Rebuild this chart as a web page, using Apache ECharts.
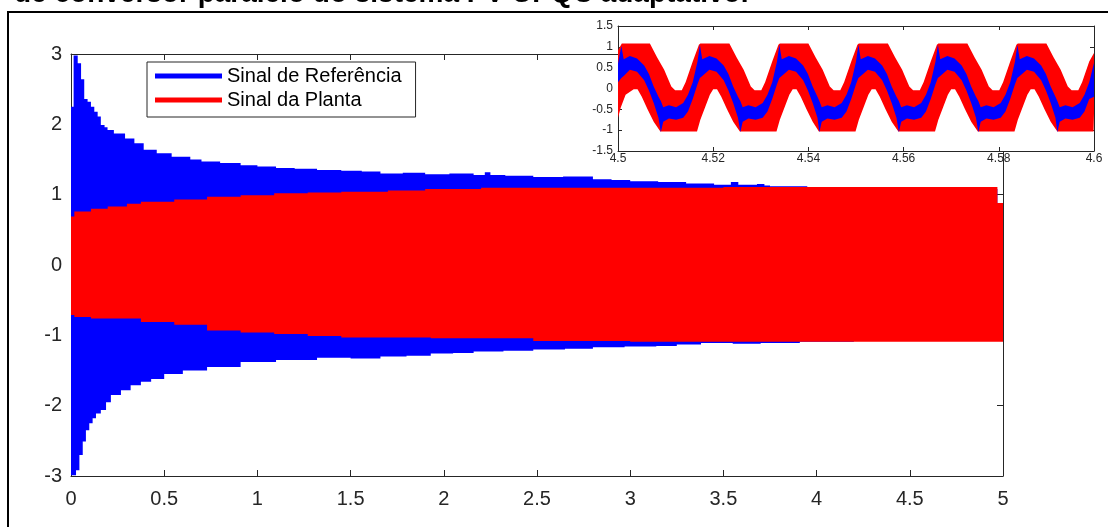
<!DOCTYPE html>
<html><head><meta charset="utf-8">
<script src="https://cdn.jsdelivr.net/npm/echarts@6/dist/echarts.min.js"></script>
<style>html,body{margin:0;padding:0;background:#fff;}#c{width:1108px;height:527px;}</style>
</head><body><div id="c"></div>
<script>
// ---------- texts ----------
const titleText = 'de conversor paralelo do sistema PV-UPQC adaptativo.';
const seriesNames = ['Sinal de Referência', 'Sinal da Planta'];

// ---------- tick labels ----------
const mainXTicks = [0, 0.5, 1, 1.5, 2, 2.5, 3, 3.5, 4, 4.5, 5];
const mainYTicks = [-3, -2, -1, 0, 1, 2, 3];
const insetXTicks = [4.5, 4.52, 4.54, 4.56, 4.58, 4.6];
const insetYTicks = [-1.5, -1, -0.5, 0, 0.5, 1, 1.5];

// ---------- main plot: envelope of the dense oscillation (step edges) ----------
const blueHiT = [0, 0.014, 0.036, 0.054, 0.071, 0.089, 0.107, 0.125, 0.143, 0.160, 0.180, 0.196, 0.230, 0.290, 0.340, 0.390, 0.460, 0.540, 0.640, 0.700, 0.800, 0.910, 1.000, 1.100, 1.200, 1.320, 1.450, 1.560, 1.660, 1.780, 1.900, 2.030, 2.160, 2.220, 2.250, 2.330, 2.480, 2.640, 2.800, 2.900, 3.000, 3.150, 3.300, 3.450, 3.540, 3.580, 3.680, 3.720, 3.750, 3.950, 4.200, 4.970, 5.000];
const blueHiV = [2.25, 2.98, 2.87, 2.64, 2.36, 2.32, 2.25, 2.18, 2.11, 1.99, 1.96, 1.92, 1.87, 1.80, 1.73, 1.64, 1.59, 1.54, 1.50, 1.47, 1.45, 1.42, 1.40, 1.38, 1.37, 1.35, 1.34, 1.33, 1.30, 1.31, 1.29, 1.30, 1.28, 1.32, 1.28, 1.27, 1.25, 1.26, 1.22, 1.21, 1.19, 1.18, 1.16, 1.14, 1.18, 1.14, 1.15, 1.13, 1.12, 1.09, 1.08, 0.85, 0.85];
const blueLoT = [0, 0.027, 0.045, 0.063, 0.080, 0.098, 0.116, 0.134, 0.160, 0.188, 0.214, 0.268, 0.320, 0.375, 0.430, 0.500, 0.600, 0.730, 0.910, 1.100, 1.320, 1.500, 1.660, 1.800, 1.930, 2.050, 2.160, 2.320, 2.480, 2.650, 2.800, 2.970, 3.140, 3.250, 3.380, 3.550, 3.700, 3.910, 4.200, 4.970, 5.000];
const blueLoV = [-2.99, -2.92, -2.70, -2.51, -2.35, -2.25, -2.18, -2.11, -2.06, -1.95, -1.85, -1.78, -1.71, -1.66, -1.62, -1.55, -1.50, -1.45, -1.38, -1.35, -1.32, -1.33, -1.30, -1.29, -1.26, -1.25, -1.23, -1.22, -1.20, -1.19, -1.17, -1.16, -1.15, -1.13, -1.11, -1.12, -1.11, -1.09, -1.07, -1.00, -1.00];
const redHiT = [0, 0.018, 0.107, 0.197, 0.300, 0.375, 0.554, 0.730, 0.910, 1.090, 1.270, 1.450, 1.700, 1.900, 2.200, 3.000, 3.500, 4.970, 5.000];
const redHiV = [0.69, 0.76, 0.80, 0.83, 0.87, 0.90, 0.93, 0.97, 0.99, 1.02, 1.03, 1.04, 1.06, 1.08, 1.10, 1.10, 1.11, 0.88, 0.88];
const redLoT = [0, 0.018, 0.107, 0.375, 0.554, 0.730, 0.910, 1.090, 1.270, 1.450, 1.930, 2.480, 3.000, 4.970, 5.000];
const redLoV = [-0.71, -0.74, -0.76, -0.81, -0.85, -0.93, -0.96, -0.98, -1.01, -1.03, -1.04, -1.08, -1.09, -1.09, -1.09];

// ---------- inset (4.5 s .. 4.6 s) ----------
const insetRedHiT = [4.5000, 4.5008, 4.5067, 4.5082, 4.5097, 4.5112, 4.5120, 4.5134, 4.5142, 4.5157, 4.5170, 4.5173,
  4.5234, 4.5249, 4.5264, 4.5279, 4.5287, 4.5301, 4.5309, 4.5324, 4.5337, 4.5340,
  4.5400, 4.5415, 4.5430, 4.5445, 4.5453, 4.5467, 4.5475, 4.5490, 4.5503, 4.5506,
  4.5567, 4.5582, 4.5597, 4.5612, 4.5620, 4.5634, 4.5642, 4.5657, 4.5670, 4.5673,
  4.5734, 4.5749, 4.5764, 4.5779, 4.5787, 4.5801, 4.5809, 4.5824, 4.5837, 4.5840,
  4.5900, 4.5915, 4.5930, 4.5945, 4.5953, 4.5967, 4.5975, 4.5990, 4.6000];
const insetRedHiV = [0.92, 1.08, 1.08, 0.75, 0.45, 0.05, -0.04, -0.04, 0.15, 0.65, 1.05, 1.08,
  1.08, 0.75, 0.45, 0.05, -0.04, -0.04, 0.15, 0.65, 1.05, 1.08,
  1.08, 0.75, 0.45, 0.05, -0.04, -0.04, 0.15, 0.65, 1.05, 1.08,
  1.08, 0.75, 0.45, 0.05, -0.04, -0.04, 0.15, 0.65, 1.05, 1.08,
  1.08, 0.75, 0.45, 0.05, -0.04, -0.04, 0.15, 0.65, 1.05, 1.08,
  1.08, 0.75, 0.45, 0.05, -0.04, -0.04, 0.15, 0.65, 0.85];
const insetRedLoT = [4.5000, 4.5006, 4.5016, 4.5033, 4.5041, 4.5050, 4.5062, 4.5075, 4.5089,
  4.5166, 4.5173, 4.5183, 4.5193, 4.5200, 4.5208, 4.5217, 4.5229, 4.5242, 4.5256,
  4.5333, 4.5340, 4.5350, 4.5360, 4.5367, 4.5375, 4.5384, 4.5396, 4.5409, 4.5422,
  4.5499, 4.5506, 4.5516, 4.5526, 4.5533, 4.5541, 4.5550, 4.5562, 4.5575, 4.5589,
  4.5666, 4.5673, 4.5683, 4.5693, 4.5700, 4.5708, 4.5717, 4.5729, 4.5742, 4.5756,
  4.5833, 4.5840, 4.5850, 4.5860, 4.5867, 4.5875, 4.5884, 4.5896, 4.5909, 4.5923,
  4.5999, 4.6000];
const insetRedLoV = [-0.70, -0.45, -0.15, -0.02, -0.02, -0.20, -0.50, -0.80, -1.03,
  -1.03, -0.75, -0.45, -0.15, -0.02, -0.02, -0.20, -0.50, -0.80, -1.03,
  -1.03, -0.75, -0.45, -0.15, -0.02, -0.02, -0.20, -0.50, -0.80, -1.03,
  -1.03, -0.75, -0.45, -0.15, -0.02, -0.02, -0.20, -0.50, -0.80, -1.03,
  -1.03, -0.75, -0.45, -0.15, -0.02, -0.02, -0.20, -0.50, -0.80, -1.03,
  -1.03, -0.75, -0.45, -0.15, -0.02, -0.02, -0.20, -0.50, -0.80, -1.03,
  -1.03, -0.60];
const insetBlueT = [4.5000, 4.5007, 4.5012, 4.5025, 4.5040, 4.5055, 4.5065, 4.5075, 4.5085,
  4.5090, 4.5095, 4.5107, 4.5122, 4.5137, 4.5147, 4.5157, 4.5167, 4.5172, 4.5177, 4.5192, 4.5207, 4.5222, 4.5232, 4.5242, 4.5252,
  4.5257, 4.5262, 4.5274, 4.5289, 4.5304, 4.5314, 4.5324, 4.5334, 4.5339, 4.5344, 4.5359, 4.5374, 4.5389, 4.5399, 4.5409, 4.5419,
  4.5423, 4.5428, 4.5440, 4.5455, 4.5470, 4.5480, 4.5490, 4.5500, 4.5505, 4.5510, 4.5525, 4.5540, 4.5555, 4.5565, 4.5575, 4.5585,
  4.5590, 4.5595, 4.5607, 4.5622, 4.5637, 4.5647, 4.5657, 4.5667, 4.5672, 4.5677, 4.5692, 4.5707, 4.5722, 4.5732, 4.5742, 4.5752,
  4.5757, 4.5762, 4.5774, 4.5789, 4.5804, 4.5814, 4.5824, 4.5834, 4.5839, 4.5844, 4.5859, 4.5874, 4.5889, 4.5899, 4.5909, 4.5919,
  4.5923, 4.5928, 4.5940, 4.5955, 4.5970, 4.5980, 4.5990, 4.6000];
const insetBlueHi = [0.60, 1.02, 0.70, 0.78, 0.72, 0.55, 0.35, 0.05, -0.20,
  -0.30, -0.45, -0.40, -0.45, -0.35, -0.15, 0.15, 0.65, 1.05, 0.70, 0.78, 0.72, 0.55, 0.35, 0.05, -0.20,
  -0.30, -0.45, -0.40, -0.45, -0.35, -0.15, 0.15, 0.65, 1.05, 0.70, 0.78, 0.72, 0.55, 0.35, 0.05, -0.20,
  -0.30, -0.45, -0.40, -0.45, -0.35, -0.15, 0.15, 0.65, 1.05, 0.70, 0.78, 0.72, 0.55, 0.35, 0.05, -0.20,
  -0.30, -0.45, -0.40, -0.45, -0.35, -0.15, 0.15, 0.65, 1.05, 0.70, 0.78, 0.72, 0.55, 0.35, 0.05, -0.20,
  -0.30, -0.45, -0.40, -0.45, -0.35, -0.15, 0.15, 0.65, 1.05, 0.70, 0.78, 0.72, 0.55, 0.35, 0.05, -0.20,
  -0.30, -0.45, -0.40, -0.45, -0.35, -0.15, 0.15, 0.62];
const insetBlueLo = [0.15, 0.25, 0.30, 0.45, 0.40, 0.20, -0.05, -0.35, -0.70,
  -1.05, -0.80, -0.72, -0.75, -0.70, -0.55, -0.25, 0.10, 0.25, 0.30, 0.45, 0.40, 0.20, -0.05, -0.35, -0.70,
  -1.05, -0.80, -0.72, -0.75, -0.70, -0.55, -0.25, 0.10, 0.25, 0.30, 0.45, 0.40, 0.20, -0.05, -0.35, -0.70,
  -1.05, -0.80, -0.72, -0.75, -0.70, -0.55, -0.25, 0.10, 0.25, 0.30, 0.45, 0.40, 0.20, -0.05, -0.35, -0.70,
  -1.05, -0.80, -0.72, -0.75, -0.70, -0.55, -0.25, 0.10, 0.25, 0.30, 0.45, 0.40, 0.20, -0.05, -0.35, -0.70,
  -1.05, -0.80, -0.72, -0.75, -0.70, -0.55, -0.25, 0.10, 0.25, 0.30, 0.45, 0.40, 0.20, -0.05, -0.35, -0.70,
  -1.05, -0.80, -0.72, -0.75, -0.70, -0.55, -0.25, -0.20];

// ---------- helpers ----------
const FONT = '"Liberation Sans", Arial, Helvetica, sans-serif';
const AX = '#262626';
const BLUE = '#0000ff', RED = '#ff0000';

function step(ticks) { return +(ticks[1] - ticks[0]).toFixed(6); }
function labelFrom(ticks) {
  return function (v) {
    const k = ticks.find(x => Math.abs(x - v) < 1e-7);
    return k === undefined ? '' : String(k);
  };
}
function band(hiT, hiV, loT, loV, stepped, color) {
  return function (params, api) {
    if (params.dataIndex !== 0) return null;
    const pts = [];
    const p = (t, v) => pts.push(api.coord([t, v]));
    if (stepped) {
      for (let i = 0; i < hiT.length - 1; i++) { p(hiT[i], hiV[i]); p(hiT[i + 1], hiV[i]); }
      for (let i = loT.length - 2; i >= 0; i--) { p(loT[i + 1], loV[i]); p(loT[i], loV[i]); }
    } else {
      for (let i = 0; i < hiT.length; i++) p(hiT[i], hiV[i]);
      for (let i = loT.length - 1; i >= 0; i--) p(loT[i], loV[i]);
    }
    return { type: 'polygon', shape: { points: pts }, style: { fill: color, stroke: null } };
  };
}
function xAx(grid, ticks, pos, labels, fs, margin, tickLen, z) {
  return {
    type: 'value', gridIndex: grid, position: pos, min: ticks[0], max: ticks[ticks.length - 1], interval: step(ticks),
    z: z,
    axisLine: { show: true, onZero: false, lineStyle: { color: AX, width: 1 } },
    axisTick: { show: true, inside: true, length: tickLen, lineStyle: { color: AX, width: 1 } },
    axisLabel: { show: labels, fontSize: fs, color: AX, fontFamily: FONT, margin: margin, formatter: labelFrom(ticks), hideOverlap: false, showMinLabel: true, showMaxLabel: true },
    splitLine: { show: false }
  };
}

const chart = echarts.init(document.getElementById('c'), null, { renderer: 'canvas' });
chart.setOption({
  animation: false,
  backgroundColor: '#fff',
  textStyle: { fontFamily: FONT },
  grid: [
    { left: 71, top: 54, width: 932, height: 422, show: false },
    { left: 618, top: 26, width: 476, height: 125, show: true, backgroundColor: '#fff', borderWidth: 0, z: 3 }
  ],
  xAxis: [
    xAx(0, mainXTicks, 'bottom', true, 20, 13, 6, 0),
    xAx(0, mainXTicks, 'top', false, 20, 13, 6, 0),
    xAx(1, insetXTicks, 'bottom', true, 12, 2, 4, 4),
    xAx(1, insetXTicks, 'top', false, 12, 2, 4, 4)
  ],
  yAxis: [
    xAx(0, mainYTicks, 'left', true, 20, 9, 6, 0),
    xAx(0, mainYTicks, 'right', false, 20, 9, 6, 0),
    xAx(1, insetYTicks, 'left', true, 12, 5, 4, 4),
    xAx(1, insetYTicks, 'right', false, 12, 5, 4, 4)
  ],
  legend: {
    data: seriesNames, left: 147, top: 62, orient: 'vertical', icon: 'rect',
    itemWidth: 67, itemHeight: 5, itemGap: 4, padding: [4, 14, 7, 8],
    borderColor: AX, borderWidth: 1, backgroundColor: '#fff', z: 8,
    textStyle: { fontSize: 20, color: '#000', fontFamily: FONT },
    selectedMode: false
  },
  graphic: [
    { type: 'rect', shape: { x: 8, y: 12, width: 1300, height: 700 }, style: { fill: null, stroke: '#000', lineWidth: 2 }, z: 20, silent: true },
    { type: 'text', x: 14, y: -6, style: { text: titleText, font: 'bold 28px ' + FONT, fill: '#000', align: 'left', verticalAlign: 'middle' }, z: 20, silent: true }
  ],
  series: [
    { type: 'custom', name: seriesNames[0], xAxisIndex: 0, yAxisIndex: 0, clip: true, z: 2, itemStyle: { color: BLUE },
      data: [[blueHiT[0], blueHiV[0]]], renderItem: band(blueHiT, blueHiV, blueLoT, blueLoV, true, BLUE) },
    { type: 'custom', name: seriesNames[1], xAxisIndex: 0, yAxisIndex: 0, clip: true, z: 2, itemStyle: { color: RED },
      data: [[redHiT[0], redHiV[0]]], renderItem: band(redHiT, redHiV, redLoT, redLoV, true, RED) },
    { type: 'custom', name: seriesNames[1], xAxisIndex: 2, yAxisIndex: 2, clip: true, z: 5, itemStyle: { color: RED },
      data: [[insetRedHiT[0], insetRedHiV[0]]], renderItem: band(insetRedHiT, insetRedHiV, insetRedLoT, insetRedLoV, false, RED) },
    { type: 'custom', name: seriesNames[0], xAxisIndex: 2, yAxisIndex: 2, clip: true, z: 6, itemStyle: { color: BLUE },
      data: [[insetBlueT[0], insetBlueHi[0]]], renderItem: band(insetBlueT, insetBlueHi, insetBlueT, insetBlueLo, false, BLUE) }
  ]
});
</script>
</body></html>
